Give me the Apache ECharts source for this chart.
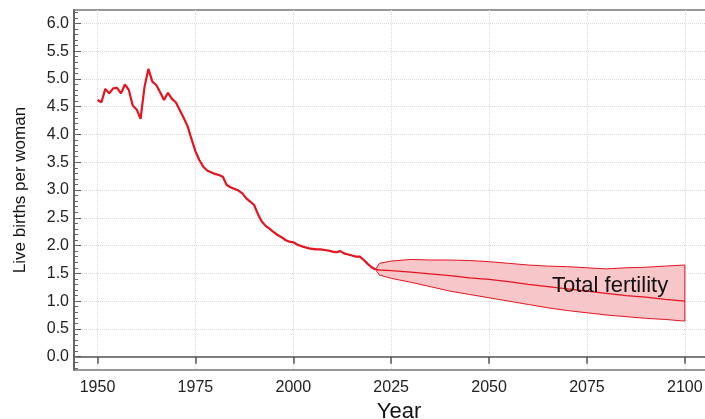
<!DOCTYPE html>
<html><head><meta charset="utf-8">
<script src="https://cdn.jsdelivr.net/npm/echarts@6/dist/echarts.min.js"></script>
<style>html,body{margin:0;padding:0;background:#fff}#c{width:705px;height:419px}</style>
</head><body><div id="c"></div>
<script>
// ---- data ----
const histYears = Array.from({length: 72}, (_, i) => 1950 + i); // 1950..2021
const histTFR = [
  4.62, 4.58, 4.82, 4.74, 4.83, 4.84, 4.74, 4.90, 4.80, 4.52,
  4.45, 4.28, 4.85, 5.18, 4.95, 4.89, 4.76, 4.62, 4.75, 4.64,
  4.58, 4.44, 4.30, 4.15, 3.92, 3.70, 3.54, 3.42, 3.35, 3.32,
  3.29, 3.27, 3.24, 3.09, 3.05, 3.02, 2.99, 2.94, 2.85, 2.79,
  2.73, 2.56, 2.43, 2.35, 2.30, 2.24, 2.19, 2.15, 2.10, 2.07,
  2.06, 2.02, 1.99, 1.97, 1.95, 1.94, 1.93, 1.93, 1.92, 1.91,
  1.89, 1.88, 1.90, 1.86, 1.84, 1.82, 1.80, 1.80, 1.74, 1.67,
  1.61, 1.57
];
const projYears  = [2021, 2022, 2025, 2030, 2035, 2040, 2045, 2050, 2055, 2060, 2065, 2070, 2075, 2080, 2085, 2090, 2095, 2100];
const projMedian = [1.57, 1.56, 1.55, 1.52, 1.49, 1.46, 1.42, 1.39, 1.35, 1.30, 1.26, 1.22, 1.18, 1.14, 1.10, 1.07, 1.03, 1.00];
const projLower  = [1.57, 1.47, 1.41, 1.34, 1.26, 1.18, 1.12, 1.06, 1.00, 0.94, 0.88, 0.83, 0.79, 0.75, 0.72, 0.69, 0.67, 0.64];
const projUpper  = [1.57, 1.68, 1.72, 1.75, 1.74, 1.74, 1.73, 1.71, 1.68, 1.65, 1.63, 1.62, 1.60, 1.58, 1.60, 1.61, 1.63, 1.65];
const xTicks = [1950, 1975, 2000, 2025, 2050, 2075, 2100];
const yTicks = [0, 0.5, 1, 1.5, 2, 2.5, 3, 3.5, 4, 4.5, 5, 5.5, 6];
const yMinorTicks = Array.from({length: 65}, (_, i) => Math.round((-0.2 + i * 0.1) * 10) / 10);
const xTitle = 'Year';
const yTitle = 'Live births per woman';
const bandLabel = 'Total fertility';

// ---- chart ----
const RED = '#e4131e';
const FONT = 'Liberation Sans';
const chart = echarts.init(document.getElementById('c'), null, {renderer: 'canvas'});
const last = projYears.length - 1;
chart.setOption({
  animation: false,
  backgroundColor: '#fff',
  grid: {left: 74, right: -19, top: 10, bottom: 49, outerBoundsMode: 'none', containLabel: false,
         show: true, borderColor: '#777', borderWidth: 1.5, backgroundColor: 'transparent'},
  xAxis: {
    type: 'value', min: 1944, max: 2110,
    name: xTitle, nameLocation: 'middle', nameGap: 23,
    nameTextStyle: {fontFamily: FONT, fontSize: 22, color: '#111'},
    axisLine: {show: true, lineStyle: {color: '#555', width: 1.5}},
    axisTick: {show: true, inside: false, length: 7, customValues: xTicks, lineStyle: {color: '#555', width: 1.5}},
    axisLabel: {customValues: xTicks, margin: 10, fontFamily: FONT, fontSize: 16, color: '#222', formatter: v => String(v)},
    splitLine: {show: true, lineStyle: {color: '#d8d8d8', type: 'dotted', width: 1}}
  },
  yAxis: [{
    type: 'value', min: -0.24, max: 6.24, position: 'left',
    name: yTitle, nameLocation: 'middle', nameGap: 45, nameRotate: 90,
    nameTextStyle: {fontFamily: FONT, fontSize: 17, color: '#111'},
    axisLine: {show: true, lineStyle: {color: '#555', width: 1.5}},
    axisTick: {show: true, inside: true, length: 7, customValues: yTicks, lineStyle: {color: '#555', width: 1}},
    axisLabel: {customValues: yTicks, margin: 5, fontFamily: FONT, fontSize: 16, color: '#222', formatter: v => v.toFixed(1)},
    splitLine: {show: true, lineStyle: {color: '#d8d8d8', type: 'dotted', width: 1}}
  }, {
    type: 'value', min: -0.24, max: 6.24, position: 'left', offset: 0,
    axisLine: {show: true, lineStyle: {opacity: 0}},
    axisTick: {show: true, inside: true, length: 4, customValues: yMinorTicks, lineStyle: {color: '#666', width: 1}},
    axisLabel: {show: false},
    splitLine: {show: false}
  }],
  series: [
    {
      type: 'custom', name: 'band', silent: true, clip: false, z: 1,
      data: [[projYears[0], projMedian[0]]],
      renderItem: (params, api) => {
        const top = projYears.map((y, i) => api.coord([y, projUpper[i]]));
        const bottom = projYears.map((y, i) => api.coord([y, projLower[i]])).reverse();
        return {type: 'polygon', shape: {points: top.concat(bottom)}, style: {fill: '#f6c6c9'}};
      }
    },
    {
      type: 'line', name: 'upper', symbol: 'none', silent: true,
      data: projYears.map((y, i) => [y, projUpper[i]]),
      lineStyle: {color: RED, width: 1}, z: 3
    },
    {
      type: 'line', name: 'lower', symbol: 'none', silent: true,
      data: projYears.map((y, i) => [y, projLower[i]]),
      lineStyle: {color: RED, width: 1}, z: 3
    },
    {
      type: 'line', name: 'edge', symbol: 'none', silent: true,
      data: [[projYears[last], projLower[last]], [projYears[last], projUpper[last]]],
      lineStyle: {color: RED, width: 1}, z: 3
    },
    {
      type: 'line', name: 'median', symbol: 'none', silent: true,
      data: projYears.map((y, i) => [y, projMedian[i]]),
      lineStyle: {color: RED, width: 1.3}, z: 4
    },
    {
      type: 'line', name: 'historical', symbol: 'none', silent: true,
      data: histYears.map((y, i) => [y, histTFR[i]]),
      lineStyle: {color: RED, width: 2.2}, z: 5
    }
  ],
  graphic: [{
    type: 'text', left: 552, top: 275, z: 10,
    style: {text: bandLabel, fontFamily: FONT, fontSize: 22, fill: '#111'}
  }]
});
</script>
</body></html>
